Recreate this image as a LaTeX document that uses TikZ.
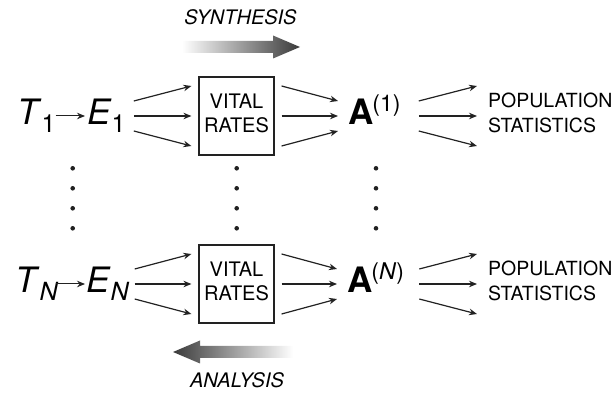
\documentclass[tikz,border=0pt]{standalone}
\usepackage{fontspec}
\setmainfont{TeX Gyre Heros}
\definecolor{linegray}{HTML}{222222}
\definecolor{shadedark}{HTML}{3A3A3A}
\usetikzlibrary{arrows.meta, calc}
\newcommand{\tsym}[2]{\textit{#1}\raisebox{-8pt}{\fontsize{25}{25}\selectfont #2}}
\newcommand{\amat}[1]{\textbf{A}\kern-1pt\raisebox{13pt}{\fontsize{23}{23}\selectfont (#1)}}
\newcommand{\rates}{\raisebox{4pt}{\begin{tabular}{@{}c@{}}VITAL\\RATES\end{tabular}}}

\begin{document}
\begin{tikzpicture}[
  x=1pt, y=-1pt,
  sym/.style={inner sep=0pt, anchor=west, text height=24pt, text depth=6pt, font=\fontsize{35}{35}\selectfont},
  amatrix/.style={sym, font=\fontsize{35}{35}\selectfont},
  ratebox/.style={rectangle, draw=linegray, line width=1.2pt, minimum width=75pt, minimum height=78pt, inner sep=0pt, font=\fontsize{20}{24}\selectfont},
  stats/.style={inner sep=0pt, anchor=west, align=left, font=\fontsize{19.5}{25}\selectfont},
  arr/.style={-{Stealth[length=8pt, width=6.5pt]}, linegray, line width=1.2pt},
  phase/.style={font=\fontsize{20}{20}\selectfont\itshape},
]
  \useasboundingbox (0,0) rectangle (614,395);

  % First row
  \node[sym] (t1) at (17,116) {\tsym{T}{1}};
  \node[sym] (e1) at (87,116) {\tsym{E}{1}};
  \node[ratebox] (vr1) at (236.5,116) {\rates};
  \node[amatrix] (a1) at (348,116) {\amat{1}};
  \node[stats] (ps1) at (488,113) {POPULATION\\STATISTICS};

  \draw[arr, line width=1pt] (t1.east) -- ([xshift=-2pt]e1.west);
  \foreach \a/\b in {15/30, 0/0, -15/-30} {
    \draw[arr] ([xshift=8pt, yshift=\a]e1.east) -- ([xshift=-7pt, yshift=\b]vr1.west);
    \draw[arr] ([xshift=7pt, yshift=\b]vr1.east) -- ([xshift=-10pt, yshift=\a]a1.west);
    \draw[arr] ([xshift=18pt, yshift=\a]a1.east) -- ($(a1.east -| ps1.west)+(-11pt,\b pt)$);
  }

  % Last row
  \node[sym] (tn) at (15,284) {\tsym{T}{\textit{N}}};
  \node[sym] (en) at (86,284) {\tsym{E}{\textit{N}}};
  \node[ratebox] (vrn) at (236.5,284) {\rates};
  \node[amatrix] (an) at (347,284) {\amat{\textit{N}}};
  \node[stats] (psn) at (488,281) {POPULATION\\STATISTICS};

  \draw[arr, line width=1pt] ([xshift=-3pt]tn.east) -- ([xshift=-1pt]en.west);
  \foreach \a/\b in {15/30, 0/0, -15/-30} {
    \draw[arr] ([xshift=5pt, yshift=\a]en.east) -- ([xshift=-7pt, yshift=\b]vrn.west);
    \draw[arr] ([xshift=7pt, yshift=\b]vrn.east) -- ([xshift=-10pt, yshift=\a]an.west);
    \draw[arr] ([xshift=15pt, yshift=\a]an.east) -- ($(an.east -| psn.west)+(-11pt,\b pt)$);
  }

  % Vertical dots between the rows
  \foreach \x in {72.7, 236.7, 376}
    \foreach \y in {168.3, 188.3, 208.3, 228.3}
      \fill[linegray] (\x,\y) circle (2.3pt);

  % Direction arrows
  \shade[left color=white, right color=shadedark] (182,41) -- (273,41) -- (273,35.5) -- (300,47) -- (273,58.5) -- (273,53) -- (182,53) -- cycle;
  \node[phase] (syn) at (240.5,17) {SYNTHESIS};

  \shade[left color=shadedark, right color=white] (293,346) -- (200,346) -- (200,340.5) -- (173,352) -- (200,363.5) -- (200,358) -- (293,358) -- cycle;
  \node[phase] (ana) at (237,380) {ANALYSIS};
\end{tikzpicture}
\end{document}
